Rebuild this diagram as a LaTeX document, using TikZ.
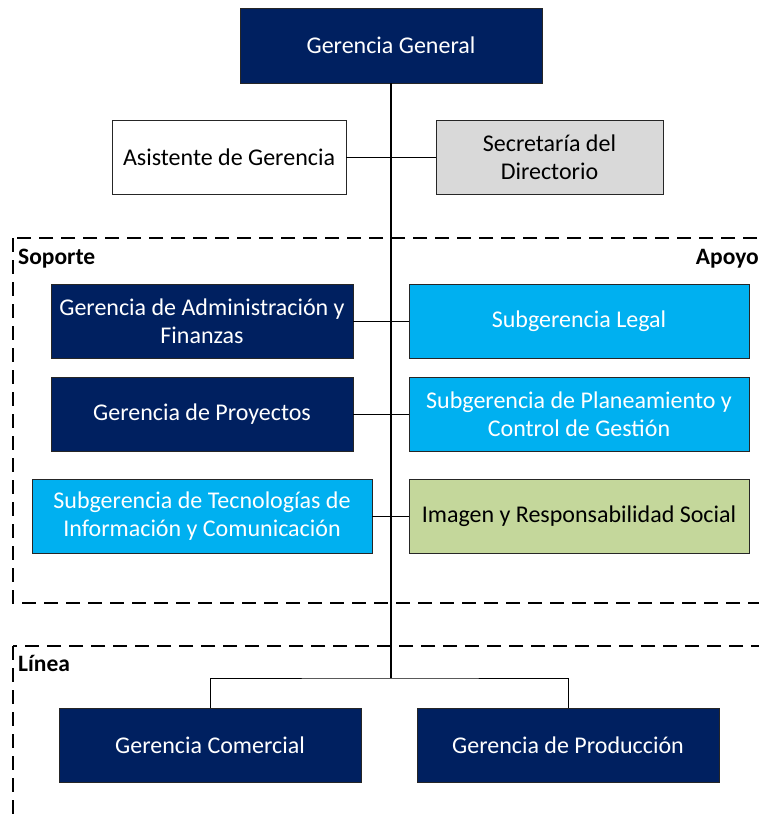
\documentclass[tikz,border=0pt]{standalone}
\usepackage{fontspec}
\setmainfont{Carlito}
\usetikzlibrary{shadows}
\definecolor{navy}{HTML}{002060}
\definecolor{cyanbox}{HTML}{00B0F0}
\definecolor{graybox}{HTML}{D9D9D9}
\definecolor{greenbox}{HTML}{C4D79B}
\tikzset{
  box/.style={draw=black!85, line width=0.8pt, rectangle, inner sep=0pt, align=center,
    font=\fontsize{24}{28}\selectfont,
    drop shadow={shadow xshift=1.2pt, shadow yshift=-1.2pt, fill=black!45, opacity=1}},
  dark/.style={box, fill=navy, text=white},
  light/.style={box, fill=cyanbox, text=white},
  whitebox/.style={box, fill=white, text=black},
  greybox/.style={box, fill=graybox, text=black},
  olivebox/.style={box, fill=greenbox, text=black},
  conn/.style={draw=black, line width=1pt},
  trunk/.style={draw=black, line width=2pt},
  region/.style={draw=black, line width=1.8pt, dash pattern=on 14pt off 8pt},
  regionlabel/.style={font=\bfseries\fontsize{23.5}{27}\selectfont, inner sep=0pt}
}
\begin{document}
\begin{tikzpicture}[x=1pt, y=-1pt]
\useasboundingbox (0,0) rectangle (759,819);
\clip (0,0) rectangle (759,819);
% regions
\draw[region] (13,238) rectangle (790,603);
\draw[region] (13,646) rectangle (790,850);
\node[regionlabel, anchor=base west] (lsop) at (18,264) {Soporte};
\node[regionlabel, anchor=base east] (lapo) at (759,264) {Apoyo};
\node[regionlabel, anchor=base west] (llin) at (18,671) {Línea};
% nodes
\node[dark, minimum width=302pt, minimum height=75pt] (gg) at (391,45.5) {Gerencia General};
\node[whitebox, minimum width=234pt, minimum height=74pt] (asis) at (229,157) {Asistente de Gerencia};
\node[greybox, minimum width=227pt, minimum height=74pt] (secr) at (549.5,157) {Secretaría del\\Directorio};
\node[dark, minimum width=302pt, minimum height=74pt] (gaf) at (202,321) {Gerencia de Administración y\\Finanzas};
\node[light, minimum width=340pt, minimum height=74pt] (legal) at (579,321) {Subgerencia Legal};
\node[dark, minimum width=302pt, minimum height=74pt] (proy) at (202,414) {Gerencia de Proyectos};
\node[light, minimum width=340pt, minimum height=74pt] (plan) at (579,414) {Subgerencia de Planeamiento y\\Control de Gestión};
\node[light, minimum width=340pt, minimum height=74pt] (tic) at (202,516) {Subgerencia de Tecnologías de\\Información y Comunicación};
\node[olivebox, minimum width=340pt, minimum height=74pt] (img) at (579,516) {Imagen y Responsabilidad Social};
\node[dark, minimum width=302pt, minimum height=74pt] (com) at (210,745) {Gerencia Comercial};
\node[dark, minimum width=302pt, minimum height=74pt] (prod) at (568,745) {Gerencia de Producción};
% connectors
\coordinate (jn) at (391,678);
\draw[conn] (asis.east) -- (secr.west);
\draw[conn] (gaf.east) -- (legal.west);
\draw[conn] (proy.east) -- (plan.west);
\draw[conn] (tic.east) -- (img.west);
\draw[trunk] (gg.south) -- (jn);
\draw[conn] (com.north) |- (jn) -| (prod.north);
\end{tikzpicture}
\end{document}
